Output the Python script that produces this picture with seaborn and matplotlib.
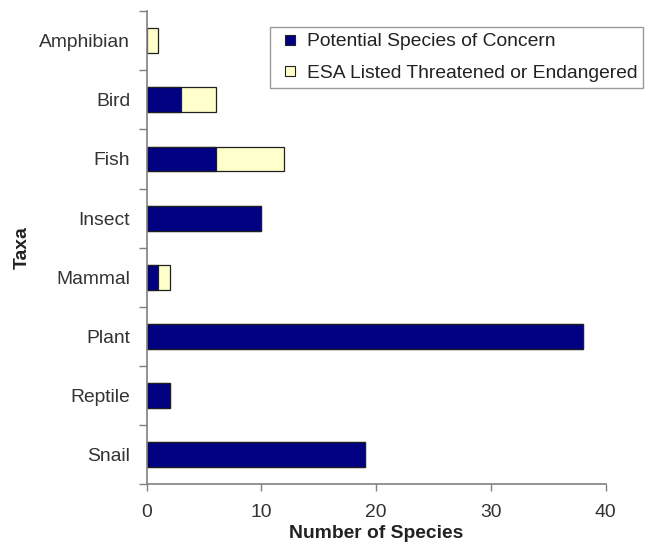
import matplotlib
matplotlib.use("Agg")
import matplotlib.pyplot as plt
import seaborn as sns
import pandas as pd
from matplotlib.lines import Line2D

# Species counts per taxon
taxa = ["Amphibian", "Bird", "Fish", "Insect", "Mammal", "Plant", "Reptile", "Snail"]
concern = [0, 3, 6, 10, 1, 38, 2, 19]
listed = [1, 3, 6, 0, 1, 0, 0, 0]
x_ticks = [0, 10, 20, 30, 40]

navy = "#000080"
cream = "#FFFFCC"
grey = "#808080"
fs = 13.9

sns.set_theme(style="white")
plt.rcParams["font.family"] = ["Liberation Sans", "DejaVu Sans"]

df = pd.DataFrame({"Taxa": taxa, "concern": concern, "listed": listed})
df["total"] = df["concern"] + df["listed"]

fig = plt.figure(figsize=(6.45, 5.48), dpi=100)
ax = fig.add_axes([0.2274, 0.1159, 0.939 - 0.2274, 0.98 - 0.1159])

# Stacked bars: totals in cream, the concern portion in navy on top
sns.barplot(data=df, y="Taxa", x="total", order=taxa, color=cream, width=0.42,
            edgecolor="#202020", linewidth=0.9, saturation=1, ax=ax)
sns.barplot(data=df[df["concern"] > 0], y="Taxa", x="concern", order=taxa, color=navy,
            width=0.42, edgecolor="#202020", linewidth=0.9, saturation=1, ax=ax)

ax.set_xlim(0, 40)
ax.set_ylim(len(taxa) - 0.5, -0.5)
ax.set_xticks(x_ticks)
ax.set_xticklabels([str(v) for v in x_ticks])

# Category boundary ticks on the y axis
ax.set_yticks([i - 0.5 for i in range(len(taxa) + 1)], minor=True)
ax.tick_params(axis="y", which="major", length=0, pad=12, labelsize=fs, labelcolor="#333333")
ax.tick_params(axis="y", which="minor", length=6, width=1, color=grey, direction="out", left=True)
ax.tick_params(axis="x", which="major", length=5, width=1, color=grey, direction="out",
               bottom=True, labelsize=fs, labelcolor="#333333", pad=9)

for side in ["top", "right"]:
    ax.spines[side].set_visible(False)
for side in ["left", "bottom"]:
    ax.spines[side].set_color(grey)
    ax.spines[side].set_linewidth(1.2)

ax.set_xlabel("Number of Species", fontsize=fs, fontweight="bold", color="#222222", labelpad=3)
ax.set_ylabel("Taxa", fontsize=fs, fontweight="bold", color="#222222", labelpad=6)

handles = [Line2D([], [], linestyle="none", marker="s", markersize=7,
                  markerfacecolor=navy, markeredgecolor="#202020", markeredgewidth=0.8),
           Line2D([], [], linestyle="none", marker="s", markersize=7,
                  markerfacecolor=cream, markeredgecolor="#202020", markeredgewidth=0.8)]
leg = fig.legend(handles, ["Potential Species of Concern", "ESA Listed Threatened or Endangered"],
                 loc="upper left", bbox_to_anchor=(270 / 645, 1 - 27 / 548),
                 bbox_transform=fig.transFigure, fontsize=fs, frameon=True, fancybox=False,
                 edgecolor=grey, handlelength=1.5, handletextpad=0.1,
                 borderpad=0.3, labelspacing=0.72, borderaxespad=0)
leg.get_frame().set_linewidth(1.0)
for t in leg.get_texts():
    t.set_color("#222222")

fig.savefig("out.png", dpi=100)
